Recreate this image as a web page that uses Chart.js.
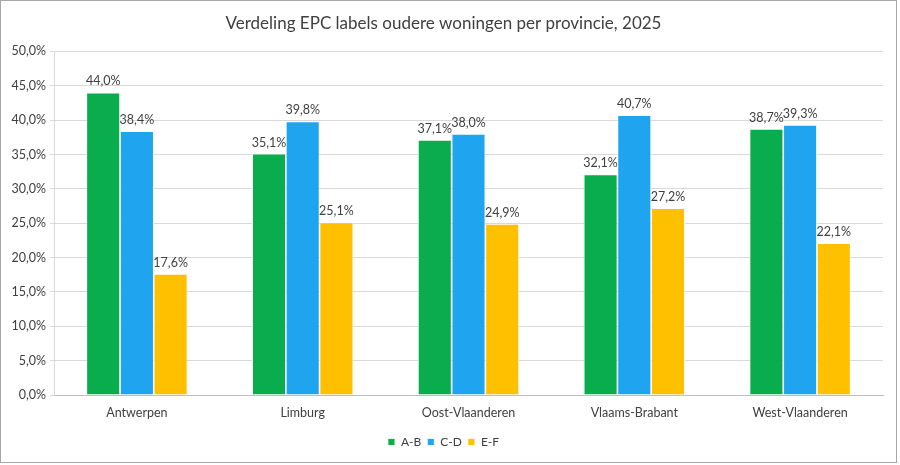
<!DOCTYPE html>
<html>
<head>
<meta charset="utf-8">
<script src="https://cdn.jsdelivr.net/npm/chart.js@4/dist/chart.umd.min.js"></script>
<style>
  html, body { margin: 0; padding: 0; background: #fff; }
  #wrap { position: relative; width: 900px; height: 465px; }
</style>
</head>
<body>
<div id="wrap"><canvas id="epcChart"></canvas></div>
<script>
const provinces = ["Antwerpen", "Limburg", "Oost-Vlaanderen", "Vlaams-Brabant", "West-Vlaanderen"];
const labelAB = [44.0, 35.1, 37.1, 32.1, 38.7];
const labelCD = [38.4, 39.8, 38.0, 40.7, 39.3];
const labelEF = [17.6, 25.1, 24.9, 27.2, 22.1];
const yTicks = [0, 5, 10, 15, 20, 25, 30, 35, 40, 45, 50];

const pct = (v) => v.toFixed(1).replace(".", ",") + "%";

// waarden boven de staven + kader rond de figuur
const barLabels = {
  id: "barLabels",
  afterDatasetsDraw(chart) {
    const ctx = chart.ctx;
    ctx.save();
    ctx.font = "12.5px Lato";
    ctx.fillStyle = "#404040";
    ctx.textAlign = "center";
    ctx.textBaseline = "bottom";
    chart.data.datasets.forEach((ds, i) => {
      chart.getDatasetMeta(i).data.forEach((bar, j) => {
        ctx.fillText(pct(ds.data[j]), bar.x, bar.y - 5);
      });
    });
    ctx.restore();
  },
  afterDraw(chart) {
    const ctx = chart.ctx;
    ctx.save();
    ctx.strokeStyle = "#a6a6a6";
    ctx.lineWidth = 1;
    ctx.strokeRect(0.5, 0.5, 896, 462);
    ctx.restore();
  },
};

new Chart(document.getElementById("epcChart"), {
  type: "bar",
  data: {
    labels: provinces,
    datasets: [
      { label: "A-B", data: labelAB, backgroundColor: "#0AAD4D" },
      { label: "C-D", data: labelCD, backgroundColor: "#1FA5F0" },
      { label: "E-F", data: labelEF, backgroundColor: "#FFC000" },
    ].map((d) => ({ ...d, borderColor: "#ffffff", borderWidth: 0.8, categoryPercentage: 0.61, barPercentage: 1 })),
  },
  options: {
    responsive: true,
    maintainAspectRatio: false,
    animation: false,
    layout: { padding: { left: 4, right: 17, top: 4, bottom: 7 } },
    plugins: {
      title: {
        display: true,
        text: "Verdeling EPC labels oudere woningen per provincie, 2025",
        color: "#404040",
        font: { family: "Lato", size: 17, weight: "normal" },
        padding: { top: 9, bottom: 18 },
      },
      legend: {
        position: "bottom",
        labels: {
          color: "#404040",
          font: { family: "Lato", size: 12 },
          boxWidth: 7,
          boxHeight: 7,
          padding: 6,
        },
      },
      tooltip: { enabled: false },
    },
    scales: {
      x: {
        grid: { display: false, drawTicks: false },
        border: { color: "#bfbfbf" },
        ticks: { color: "#404040", font: { family: "Lato", size: 12.5 }, padding: 10 },
      },
      y: {
        min: 0,
        max: 50,
        afterBuildTicks: (scale) => { scale.ticks = yTicks.map((v) => ({ value: v })); },
        afterFit: (scale) => { scale.width = 50; },
        grid: { color: "#d9d9d9", tickLength: 4 },
        border: { color: "#d9d9d9" },
        ticks: { color: "#404040", font: { family: "Lato", size: 12.5 }, padding: 4, callback: (v) => pct(v) },
      },
    },
  },
  plugins: [barLabels],
});
</script>
</body>
</html>
